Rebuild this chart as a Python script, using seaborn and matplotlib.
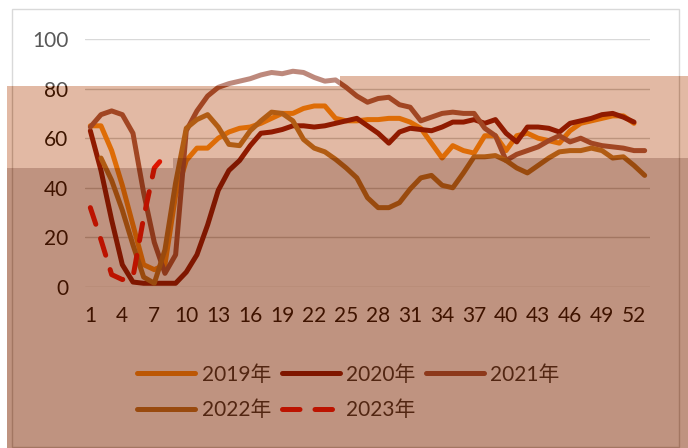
import numpy as np
import pandas as pd
import matplotlib
matplotlib.use("Agg")
import matplotlib.pyplot as plt
from matplotlib.patches import Polygon, Rectangle
import seaborn as sns

# data (weekly values)
weeks = list(range(1, 54))
tick_weeks = list(range(1, 54, 3))
years = ['2019年', '2020年', '2021年', '2022年', '2023年']

v2019 = [65, 65, 55, 41, 25, 9, 7, 9, 37, 51, 56, 56, 60, 62.5, 64, 64.5, 66, 68, 70, 70,
         72, 73, 73, 68, 67, 67, 67.5, 67.5, 68, 68, 66.5, 64, 58, 52, 57, 55, 54, 61, 61, 55,
         61, 62, 60, 59, 58, 63, 66, 67, 68, 69, 69, 66]
v2020 = [63, 47, 27, 9, 2, 1.5, 1.5, 1.5, 1.5, 6, 13, 25, 39, 47, 51, 57, 62, 62.5, 63.5, 65,
         65, 64.5, 65, 66, 67, 68, 65, 62, 58, 62.5, 64, 63.5, 63, 64.5, 66.5, 66.5, 67.5, 66, 67.5, 62,
         58.5, 64.5, 64.5, 64, 62.5, 66, 67, 68, 69.5, 70, 68.5, 66.5]
v2021 = [64.5, 69.5, 71, 69.5, 62, 38, 18, 5.5, 13, 63, 71, 77, 80.5, 82, 83, 84, 85.5, 86.5, 86, 87,
         86.5, 84.5, 83, 83.5, 80.5, 77, 74.5, 76, 76.5, 73.5, 72.5, 67, 68.5, 70, 70.5, 70, 70, 64, 61, 51,
         53.5, 55, 56.5, 59, 61, 58.5, 60, 58, 57, 56.5, 56, 55, 55]
v2022 = [np.nan, 52, 43, 31, 17, 4, 1.5, 15, 42, 64, 67.5, 69.5, 64.5, 57.5, 57, 63, 67, 70.5, 70, 67,
         59.5, 56, 54.5, 51.5, 48, 44, 36, 32, 32, 34, 39.5, 44, 45, 41, 40, 46, 52.5, 52.5, 53, 51,
         48, 46, 49, 52, 54.5, 55, 55, 56, 55, 52, 52.5, 49, 45]
v2023 = [32, 19, 5, 3, 4, 28, 48, 53]

series = [v2019, v2020, v2021, v2022, v2023]
colors = ['#fa870a', '#800800', '#9b4b37', '#b46e1e', '#fa0000']

sns.set_style('white')
plt.rcParams['font.family'] = ['Lato', 'Noto Sans CJK SC', 'DejaVu Sans']

W, H = 688, 448
fig = plt.figure(figsize=(W / 100, H / 100), dpi=100)
ax = fig.add_axes([85 / W, 1 - 287 / H, 565 / W, 248 / H])

for name, vals, col in zip(years, series, colors):
    d = pd.DataFrame({'周': weeks[:len(vals)], '值': vals}).dropna()
    ls = (0, (3.5, 3.0)) if name == '2023年' else '-'
    sns.lineplot(data=d, x='周', y='值', ax=ax, color=col, lw=3.6, linestyle=ls,
                 solid_capstyle='round', dash_capstyle='round', solid_joinstyle='round',
                 label=name, legend=False)

ax.set_xlim(0.5, 53.5)
ax.set_ylim(0, 100)
ax.set_xticks(tick_weeks)
ax.set_xticklabels([str(w) for w in tick_weeks])
ax.set_yticks(range(0, 101, 20))
ax.set_xlabel('')
ax.set_ylabel('')
ax.grid(axis='y', color='#c5c5c5', lw=1.0)
ax.grid(axis='x', visible=False)
for s in ax.spines.values():
    s.set_visible(False)
ax.tick_params(length=0, labelsize=15, colors='black')
ax.tick_params(axis='y', pad=12)
ax.tick_params(axis='x', pad=14)

lines = ax.get_lines()
order = [0, 3, 1, 4, 2]
ax.legend([lines[i] for i in order], [years[i] for i in order], ncol=3, frameon=False,
          fontsize=15, handlelength=2.8, handletextpad=0.3, columnspacing=0.5,
          labelspacing=0.75, loc='center', bbox_to_anchor=(348.5 / W, 1 - 392.5 / H),
          bbox_transform=fig.transFigure)


def px(pts):
    return [(x / W, 1 - y / H) for x, y in pts]


# chart border
fig.add_artist(Rectangle((12 / W, 1 - 447 / H), 667 / W, 438 / H, transform=fig.transFigure,
                         fill=False, edgecolor='#c5c5c5', lw=1.0, zorder=3))

# translucent overlays on top of the picture
fig.add_artist(Polygon(px([(0, 0), (688, 0), (688, 76), (340, 76), (340, 86), (0, 86)]),
                       transform=fig.transFigure, color='white', alpha=0.35, lw=0, zorder=10))
fig.add_artist(Polygon(px([(7, 86), (340, 86), (340, 76), (688, 76), (688, 448), (7, 448)]),
                       transform=fig.transFigure, color=(174 / 255, 61 / 255, 0), alpha=0.357,
                       lw=0, zorder=10))
fig.add_artist(Polygon(px([(7, 168), (173, 168), (173, 158), (688, 158), (688, 448), (7, 448)]),
                       transform=fig.transFigure, color=(71 / 255, 13 / 255, 0), alpha=0.22,
                       lw=0, zorder=11))

fig.savefig('out.png', dpi=100)
